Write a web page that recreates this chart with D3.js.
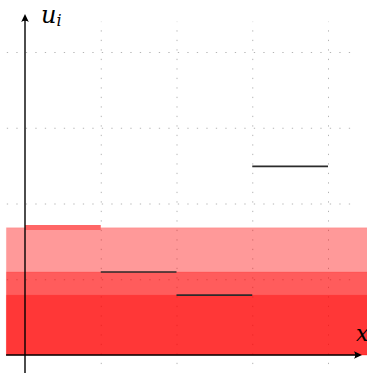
<!DOCTYPE html>
<html>
<head>
<meta charset="utf-8">
<script src="https://cdn.jsdelivr.net/npm/d3@7/dist/d3.min.js"></script>
<style>
  html, body { margin: 0; padding: 0; background: #fff; overflow: hidden; }
  svg { display: block; }
</style>
</head>
<body>
<svg id="chart" width="367" height="373"></svg>
<script>
// Piecewise-constant values u_i on cells [i-1, i]
const cells = [0, 1, 2, 3];
const uValues = [1.68, 1.096, 0.79, 2.49];
// Levels shaded as stacked translucent bands (first three cells)
const bandLevels = [1.68, 1.096, 0.79];
// Grid positions
const gridX = [1, 2, 3, 4];
const gridY = [1, 2, 3, 4];
const axisLabelY = "u";
const axisLabelYSub = "i";
const axisLabelX = "x";

const svg = d3.select("#chart");
const x = d3.scaleLinear().domain([0, 4]).range([25, 328]);
const y = d3.scaleLinear().domain([0, 4]).range([355, 52]);

// Dotted grid
const grid = svg.append("g");
grid.append("g")
  .attr("transform", `translate(0,${y(-0.12)})`)
  .call(d3.axisBottom(x).tickValues(gridX).tickSize(-(y(-0.12) - y(4.4))).tickFormat("").tickSizeOuter(0))
  .call(g => g.select(".domain").remove());
grid.append("g")
  .attr("transform", `translate(${x(-0.24)},0)`)
  .call(d3.axisLeft(y).tickValues(gridY).tickSize(-(x(4.4) - x(-0.24))).tickFormat("").tickSizeOuter(0))
  .call(g => g.select(".domain").remove());
grid.selectAll(".tick line")
  .attr("stroke", "#b4b4b4")
  .attr("stroke-width", 1)
  .attr("stroke-dasharray", "1.3 8.2");

// Translucent bands from 0 up to each level
svg.append("g").selectAll("rect")
  .data(bandLevels)
  .join("rect")
  .attr("x", x(-0.245))
  .attr("width", x(4.7) - x(-0.245))
  .attr("y", d => y(d))
  .attr("height", d => y(0) - y(d))
  .attr("fill", "#ff0000")
  .attr("fill-opacity", 0.4)
  .attr("stroke", "#ff0000")
  .attr("stroke-opacity", 0.12)
  .attr("stroke-width", 1);

// Step segments (the first one is highlighted in red)
const segs = cells.map((c, i) => ({ x0: c, x1: c + 1, u: uValues[i] }));
svg.append("g").selectAll("line")
  .data(segs)
  .join("line")
  .attr("x1", d => x(d.x0))
  .attr("x2", d => x(d.x1))
  .attr("y1", d => y(d.u) - (d.x0 === 0 ? 0.3 : 0))
  .attr("y2", d => y(d.u) - (d.x0 === 0 ? 0.3 : 0))
  .attr("stroke", (d, i) => i === 0 ? "#ff6666" : "#2b2b2b")
  .attr("stroke-width", (d, i) => i === 0 ? 5 : 1.6);

// Axes with arrow heads
const axes = svg.append("g").attr("stroke", "#000").attr("fill", "none");
axes.append("line")
  .attr("x1", x(0)).attr("x2", x(0))
  .attr("y1", 373).attr("y2", 17)
  .attr("stroke-width", 1.4);
axes.append("line")
  .attr("x1", x(-0.25)).attr("x2", 360)
  .attr("y1", y(0)).attr("y2", y(0))
  .attr("stroke-width", 1.4);

function arrow(tx, ty, angle) {
  svg.append("path")
    .attr("d", "M0,0 L-8,-3.8 Q-5.5,0 -8,3.8 Z")
    .attr("transform", `translate(${tx},${ty}) rotate(${angle})`)
    .attr("fill", "#000");
}
arrow(x(0), 14, -90);
arrow(362, y(0), 0);

// Axis labels
const lab = svg.append("text")
  .attr("x", 41)
  .attr("y", 23)
  .attr("font-family", "'DejaVu Serif', 'Liberation Serif', serif")
  .attr("font-style", "italic")
  .attr("font-size", 24)
  .attr("fill", "#000");
lab.append("tspan").text(axisLabelY);
lab.append("tspan")
  .attr("font-size", 16)
  .attr("dy", 3)
  .text(axisLabelYSub);

svg.append("text")
  .attr("x", 356)
  .attr("y", 341)
  .attr("font-family", "'DejaVu Serif', 'Liberation Serif', serif")
  .attr("font-style", "italic")
  .attr("font-size", 22)
  .attr("fill", "#000")
  .text(axisLabelX);
</script>
</body>
</html>
